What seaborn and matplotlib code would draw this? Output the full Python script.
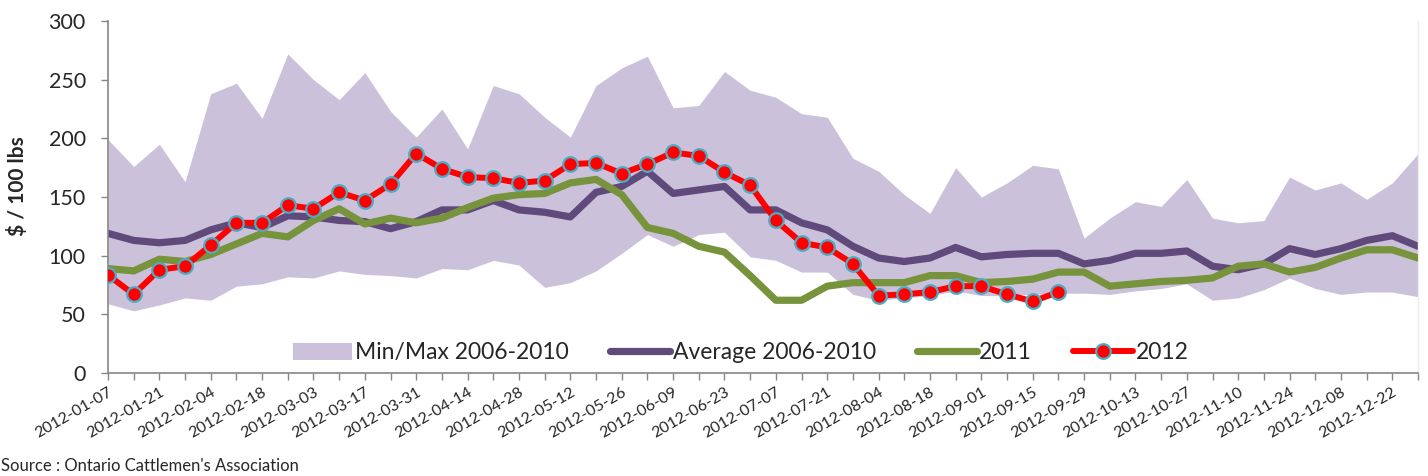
import numpy as np
import pandas as pd
import matplotlib
matplotlib.use("Agg")
import matplotlib.pyplot as plt
import seaborn as sns
from matplotlib.patches import Patch
from matplotlib.lines import Line2D

# ---------------- data ----------------
dates = pd.date_range("2012-01-07", periods=52, freq="7D").strftime("%Y-%m-%d").tolist()

max_0610 = [199, 176, 195, 163, 238, 247, 217, 272, 250, 233, 256, 223, 201,
            225, 191, 245, 238, 218, 201, 245, 260, 270, 226, 228, 257, 241,
            235, 221, 218, 183, 172, 152, 136, 175, 150, 162, 177, 174, 115,
            132, 146, 142, 165, 132, 128, 130, 167, 156, 162, 148, 162, 187]
min_0610 = [59, 53, 58, 64, 62, 74, 76, 82, 81, 87, 84, 83, 81,
            89, 88, 96, 92, 73, 77, 87, 102, 118, 108, 118, 120, 99,
            96, 86, 86, 67, 62, 64, 66, 70, 66, 66, 67, 68, 68,
            67, 70, 72, 76, 62, 64, 71, 81, 72, 67, 69, 69, 65]
avg_0610 = [119, 113, 111, 113, 122, 128, 124, 134, 133, 130, 129, 123, 129,
            139, 139, 147, 139, 137, 133, 154, 159, 172, 153, 156, 159, 139,
            139, 128, 122, 108, 98, 95, 98, 107, 99, 101, 102, 102, 93,
            96, 102, 102, 104, 91, 88, 93, 106, 101, 106, 113, 117, 108]
y2011 = [89, 87, 97, 95, 101, 110, 119, 116, 130, 140, 127, 132, 128,
         132, 141, 149, 152, 153, 162, 165, 152, 124, 119, 108, 103, 83,
         62, 62, 74, 77, 77, 77, 83, 83, 77, 78, 80, 86, 86,
         74, 76, 78, 79, 81, 91, 93, 86, 90, 98, 105, 105, 98]
y2012 = [83.5, 67, 88, 91, 109, 128, 128, 143, 140, 154, 147, 161, 187,
         174, 167, 166, 162, 164, 178, 179, 170, 178, 188, 185, 171, 160,
         130, 111, 107, 93, 66, 67, 69, 74, 74, 67, 61, 69]

labels = ["Min/Max 2006-2010", "Average 2006-2010", "2011", "2012"]
source = "Source : Ontario Cattlemen's Association"

# ---------------- style ----------------
sns.set_theme(style="white")
plt.rcParams["font.family"] = ["Lato", "DejaVu Sans"]

C_BAND = "#ccc1da"
C_AVG = "#604a7b"
C_2011 = "#77933c"
C_2012 = "#ff0000"
C_MEDGE = "#4bacc6"
C_AXIS = "#868686"

fig = plt.figure(figsize=(14.28, 4.76), dpi=100)
ax = fig.add_axes([108 / 1428, 1 - 373 / 476, 1310 / 1428, 352 / 476])

idx = np.arange(len(dates))
df = pd.DataFrame({"i": idx, "avg": avg_0610, "y2011": y2011})
df12 = pd.DataFrame({"i": idx[:len(y2012)], "y2012": y2012})

ax.fill_between(idx, min_0610, max_0610, color=C_BAND, linewidth=0, zorder=1)
sns.lineplot(data=df, x="i", y="avg", ax=ax, color=C_AVG, linewidth=5.2,
             solid_capstyle="round", zorder=2)
sns.lineplot(data=df, x="i", y="y2011", ax=ax, color=C_2011, linewidth=5.2,
             solid_capstyle="round", zorder=3)
sns.lineplot(data=df12, x="i", y="y2012", ax=ax, color=C_2012, linewidth=4.3,
             marker="o", markersize=10.5, markerfacecolor=C_2012,
             markeredgecolor=C_MEDGE, markeredgewidth=1.6, zorder=4)

ax.set_xlim(0, len(dates) - 1)
ax.set_ylim(0, 300)
ax.set_yticks(range(0, 301, 50))
ax.set_xticks(idx)
ax.set_xticklabels([d if k % 2 == 0 else "" for k, d in enumerate(dates)],
                   rotation=30, ha="right", rotation_mode="anchor", fontsize=11.5)
ax.tick_params(axis="y", labelsize=15.5, length=5, width=1, color=C_AXIS,
               direction="out", left=True, pad=11)
ax.tick_params(axis="x", length=5, width=1, color=C_AXIS, direction="out",
               bottom=True, pad=4)
ax.set_xlabel("")
ax.set_ylabel("$ / 100 lbs", fontsize=15, fontweight="bold")
ax.yaxis.set_label_coords(-0.061, 0.53)

ax.spines["top"].set_visible(False)
ax.spines["right"].set_color("#eeeeee")
ax.spines["right"].set_linewidth(1)
for s in ["left", "bottom"]:
    ax.spines[s].set_color(C_AXIS)
    ax.spines[s].set_linewidth(1.2)

handles = [
    Patch(facecolor=C_BAND, edgecolor="none"),
    Line2D([], [], color=C_AVG, linewidth=5.2, solid_capstyle="round"),
    Line2D([], [], color=C_2011, linewidth=5.2, solid_capstyle="round"),
    Line2D([], [], color=C_2012, linewidth=4.3, marker="o", markersize=10.5,
           markerfacecolor=C_2012, markeredgecolor=C_MEDGE, markeredgewidth=1.6),
]
leg = ax.legend(handles, labels, loc="center", bbox_to_anchor=(0.483, 0.057),
                ncol=4, frameon=False, fontsize=16.5, handlelength=2.6,
                handleheight=0.8, handletextpad=0.12, columnspacing=1.8)

fig.text(1 / 1428, 1 - 466 / 476, source, fontsize=12, ha="left", va="center")

fig.savefig("out.png", dpi=100)
